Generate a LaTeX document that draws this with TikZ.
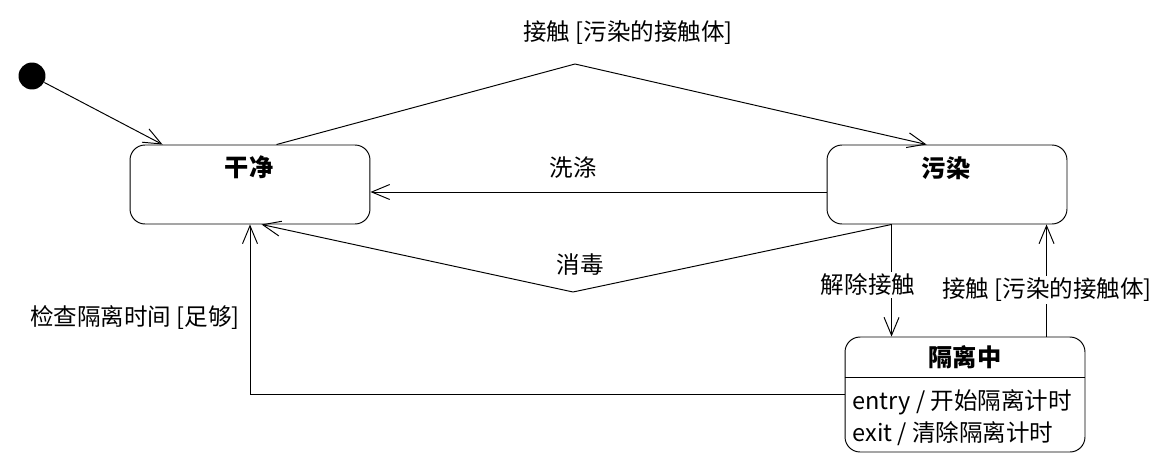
\documentclass[tikz,border=0pt]{standalone}
\usepackage{fontspec}
\setmainfont{Noto Sans CJK SC}
\usetikzlibrary{arrows.meta,calc}
\begin{document}
\begin{tikzpicture}%
	[x=0.02cm, y=-0.02cm,
	line width=0.55pt,
	>={Straight Barb[length=0.36cm,width=0.3cm]},
	initial/.style={circle, fill=black, minimum size=0.54cm, inner sep=0pt},
	state/.style={draw, rounded corners=0.3cm, minimum width=4.8cm, minimum height=1.58cm, inner sep=0pt},
	title/.style={font=\fontsize{13.8}{16}\selectfont\bfseries, inner sep=0pt},
	trans/.style={->},
	lbl/.style={font=\fontsize{13.4}{16}\selectfont, inner sep=1pt}]
%
\useasboundingbox (0,0) rectangle (1163,470);
%%
%% States
%%
\node[initial] (init) at (32,76) {};
\node[state] (clean) at (250,184.5) {};
\node[title] (cleantitle) at (249,167) {干净};
\node[state] (dirty) at (947,184.5) {};
\node[title] (dirtytitle) at (946,168) {污染};
\node[state, minimum height=2.3cm] (quar) at (965,394.5) {};
\node[title] (quartitle) at (965,357) {隔离中};
\draw ($(quar.north west)+(0,41)$) -- ($(quar.north east)+(0,41)$);
\node[lbl, anchor=west, align=left, inner sep=0pt, font=\fontsize{13.4}{18.1}\selectfont] (quarbody) at (852,418)
	{entry / 开始隔离计时\\exit / 清除隔离计时};
%%
%% Bend points
%%
\coordinate (bendtop) at (575,64);
\coordinate (bendlow) at (573,292);
%%
%% Transitions
%%
\draw[trans] (init) -- ($(clean.north west)+(33,0)$);
\draw[trans] ($(clean.north west)+(147,0)$) -- (bendtop) -- ($(dirty.north west)+(100,0)$);
\node[lbl] (contacttop) at (628,33) {接触 [污染的接触体]};
\draw[trans] ($(dirty.west)+(0,7.5)$) -- ($(clean.east)+(0,7.5)$);
\node[lbl] (wash) at (573,168) {洗涤};
\draw[trans] ($(dirty.south west)+(65,0)$) -- (bendlow) -- ($(clean.south west)+(132,0)$);
\node[lbl] (disinfect) at (580,265) {消毒};
\draw[trans] ($(dirty.south west)+(65,0)$) -- ($(quar.north west)+(47,0)$);
\node[lbl, fill=white] (release) at (868,285) {解除接触};
\draw[trans] ($(quar.north west)+(202,0)$) -- ($(dirty.south west)+(220,0)$);
\node[lbl, fill=white] (contactright) at (1047,290) {接触 [污染的接触体]};
\draw[trans] (quar.west) -| (clean.south);
\node[lbl] (check) at (135,318) {检查隔离时间 [足够]};
%%
\end{tikzpicture}
\end{document}
